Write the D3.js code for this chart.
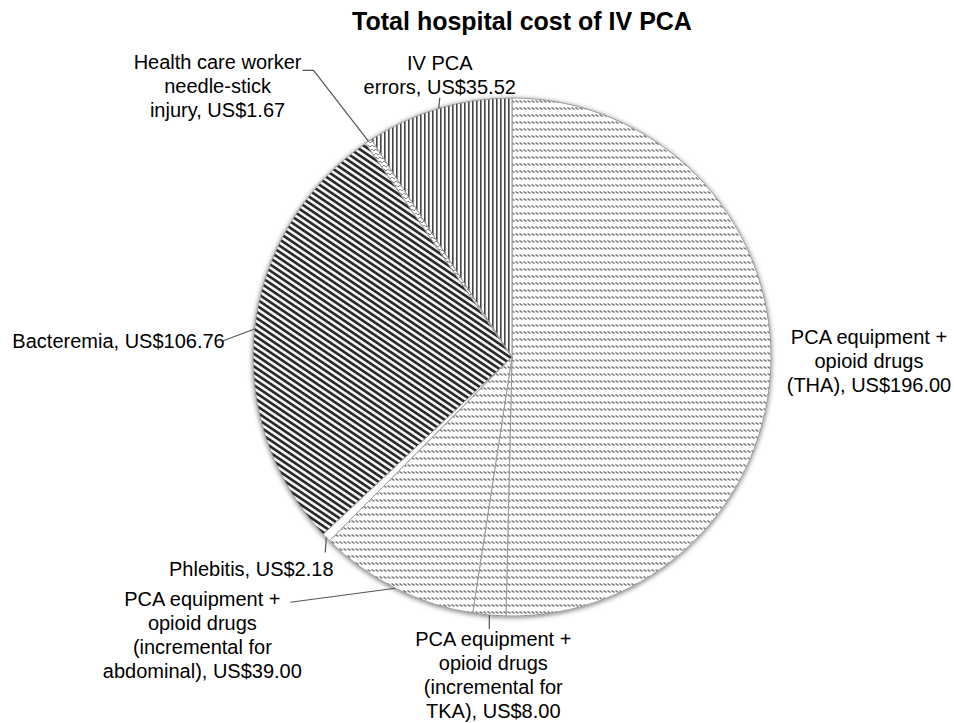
<!DOCTYPE html>
<html>
<head>
<meta charset="utf-8">
<script src="https://cdn.jsdelivr.net/npm/d3@7"></script>
<style>
body { margin: 0; background: #fff; }
text { font-family: "Liberation Sans", Arial, sans-serif; fill: #000; }
</style>
</head>
<body>
<svg width="954" height="723"></svg>
<script>
// data (US$ per patient)
var title = "Total hospital cost of IV PCA";
var values = [196.00, 8.00, 39.00, 2.18, 106.76, 1.67, 35.52];
var nameLines = [
	["PCA equipment +", "opioid drugs", "(THA)"],
	["PCA equipment +", "opioid drugs", "(incremental for", "TKA)"],
	["PCA equipment +", "opioid drugs", "(incremental for", "abdominal)"],
	["Phlebitis"],
	["Bacteremia"],
	["Health care worker", "needle-stick", "injury"],
	["IV PCA", "errors"]
];

// layout: fill pattern per slice, label offset from slice edge, leader line points (relative too)
var fills = ["url(#wave)", "url(#wave)", "url(#wave)", "#fff", "url(#stripes)", "url(#hatch)", "url(#vlines)"];
var labelOffset = [[98, -23], [4, 24], [-193, 11], [-75, 31], [-136, 12], [-151, -79], [1, -46]];
var leader = [
	[],
	[[0, 14]],
	[[-105, 14]],
	[[-1, 15]],
	[[-32, 12]],
	[[-55, -71], [-66, -71]],
	[[1, -11]]
];

var svg = d3.select('svg');
var cx = 512, cy = 357, r = 259;
var lineH = 24;

var defs = svg.append('defs');

var wave = defs.append('pattern').attr('id', 'wave')
	.attr('patternUnits', 'userSpaceOnUse').attr('width', 4).attr('height', 7);
wave.append('rect').attr('width', 4).attr('height', 7).attr('fill', '#fff');
wave.append('path').attr('d', 'M-0.5,2.5 L2.5,4.5 M3.5,2.5 L6.5,4.5 M-4.5,2.5 L-1.5,4.5')
	.attr('stroke', '#777').attr('stroke-width', 1.5);

var stripes = defs.append('pattern').attr('id', 'stripes')
	.attr('patternUnits', 'userSpaceOnUse').attr('width', 10).attr('height', 5.2)
	.attr('patternTransform', 'rotate(34)');
stripes.append('rect').attr('width', 10).attr('height', 5.2).attr('fill', '#f2f2f2');
stripes.append('rect').attr('width', 10).attr('height', 2.6).attr('fill', '#2c2c2c');

var vlines = defs.append('pattern').attr('id', 'vlines')
	.attr('patternUnits', 'userSpaceOnUse').attr('width', 4).attr('height', 4);
vlines.append('rect').attr('width', 4).attr('height', 4).attr('fill', '#fafafa');
vlines.append('rect').attr('width', 1.6).attr('height', 4).attr('fill', '#454545');

var hatch = defs.append('pattern').attr('id', 'hatch')
	.attr('patternUnits', 'userSpaceOnUse').attr('width', 4).attr('height', 4);
hatch.append('rect').attr('width', 4).attr('height', 4).attr('fill', '#fff');
hatch.append('path').attr('d', 'M0,0 L2,2 L4,0').attr('fill', 'none')
	.attr('stroke', '#7a7a7a').attr('stroke-width', 0.9);

var shadow = defs.append('filter').attr('id', 'shadow')
	.attr('x', '-10%').attr('y', '-10%').attr('width', '120%').attr('height', '120%');
shadow.append('feDropShadow').attr('dx', 0).attr('dy', 1).attr('stdDeviation', 2.5)
	.attr('flood-color', '#000').attr('flood-opacity', 0.55);

//title
svg.append('text')
	.attr('x', 522).attr('y', 30)
	.attr('text-anchor', 'middle')
	.style('font-size', '25px').style('font-weight', 'bold')
	.text(title);

var pie = d3.pie().sort(null).value(d => d);
var arcs = pie(values);
var arc = d3.arc().innerRadius(0).outerRadius(r);
var edge = d3.arc().innerRadius(r).outerRadius(r);

var g = svg.append('g').attr('transform', 'translate(' + cx + ',' + cy + ')');

g.append('g').attr('filter', 'url(#shadow)')
	.selectAll('path')
	.data(arcs)
	.enter().append('path')
	.attr('d', arc)
	.attr('fill', (d, i) => fills[i])
	.attr('stroke', '#999')
	.attr('stroke-width', 1);

// leader lines
arcs.forEach((d, i) => {
	if (!leader[i].length) return;
	var p = edge.centroid(d);
	var pts = [p].concat(leader[i].map(o => [p[0] + o[0], p[1] + o[1]]));
	g.append('path')
		.attr('d', d3.line()(pts))
		.attr('fill', 'none')
		.attr('stroke', '#555')
		.attr('stroke-width', 1.2);
});

// labels
arcs.forEach((d, i) => {
	var p = edge.centroid(d);
	var lines = nameLines[i].slice();
	lines[lines.length - 1] += ', US$' + values[i].toFixed(2);
	var t = g.append('text')
		.attr('text-anchor', 'middle')
		.style('font-size', '20px');
	lines.forEach((l, j) => {
		t.append('tspan')
			.attr('x', p[0] + labelOffset[i][0])
			.attr('y', p[1] + labelOffset[i][1] + j * lineH)
			.attr('dy', '0.35em')
			.text(l);
	});
});
</script>
</body>
</html>
